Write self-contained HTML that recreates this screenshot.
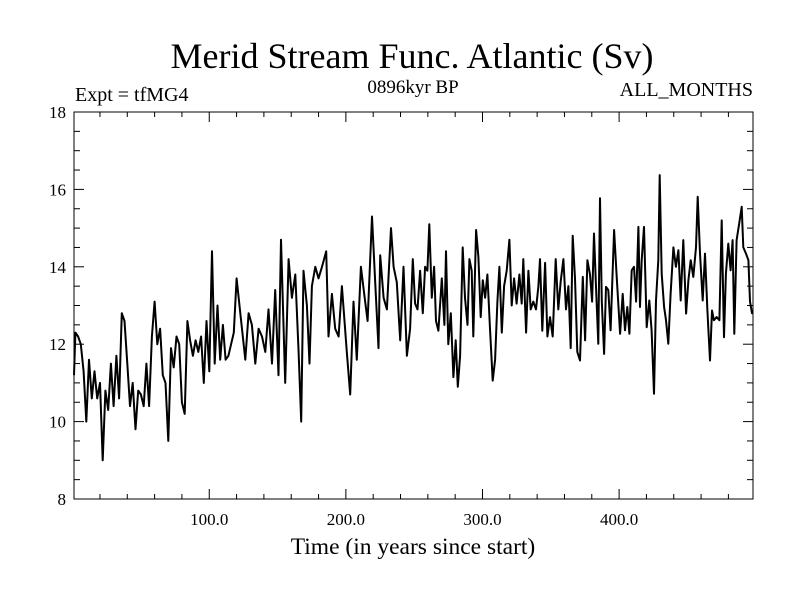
<!DOCTYPE html>
<html><head><meta charset="utf-8"><style>
body{margin:0;background:#fff;}
svg{display:block;font-family:"Liberation Serif",serif;}
</style></head><body>
<svg id="chart" width="800" height="600" viewBox="0 0 800 600">
<text x="412" y="68" font-size="36" text-anchor="middle">Merid Stream Func. Atlantic (Sv)</text>
<text x="75" y="101" font-size="20">Expt = tfMG4</text>
<text x="413" y="93" font-size="19" text-anchor="middle">0896kyr BP</text>
<text x="753" y="96" font-size="20" text-anchor="end">ALL_MONTHS</text>
<text x="413" y="554" font-size="23.5" text-anchor="middle">Time (in years since start)</text>
<g id="axes"></g>
<path id="series" fill="none" stroke="#000" stroke-width="2" stroke-linejoin="round"/>
<rect x="74" y="112" width="679" height="387" fill="none" stroke="#000" stroke-width="1"/>
</svg>
<script>
const years = [1,2,4,6,8,10,12,14,16,18,20,22,24,26,28,30,32,34,36,38,40,42,44,46,48,50,52,54,56,58,60,62,64,66,68,70,72,74,76,78,80,82,84,86,88,90,92,94,96,98,100,102,104,106,108,110,112,114,116,118,120,
122.7,126.4,128.8,131.2,133.7,136.1,138.6,141,143.4,145.9,148.3,150.7,152.5,155.6,158.1,160.5,163,165.4,167.3,169,171.5,173.4,175.1,177.6,180,182.5,185.6,187.3,189.8,192.2,194.7,197.1,200.7,203.2,205.6,208,211,213.4,215.9,219.1,221.5,223.9,225.1,227.6,230,233,234.9,237.3,239.8,242.2,244.7,
247,249,250.7,252.4,254.3,256.3,258,259.7,261.1,262.9,264.6,266,267.7,270.2,272.1,273.3,275,276.8,278.7,280.4,281.9,283.6,285.5,287.2,289,290.4,292.1,293.3,295.3,297,298.7,300.2,301.9,303.6,305.5,307.5,309.2,310.9,312.4,314.1,315.8,317.7,319.7,321.4,323.1,325,327,328.7,329.9,331.9,333.6,335.3,337.2,339.2,340.9,342.1,343.8,345.8,347.5,349.4,351.4,353.6,355.5,357.2,359.2,361.1,362.9,364.6,366,367.7,369.4,
371.4,373.4,375.1,376.8,378.7,380.2,381.6,383.1,384.8,386,387.3,389,390.4,392.1,393.8,396.3,398.2,400.7,402.6,404.3,406,407.5,409.2,410.9,412.4,414.1,415.3,416.5,418.2,420.2,422.1,423.8,425.5,427,428.7,429.7,431.2,432.9,434.3,436,437.7,439.7,441.6,443.4,445.1,447,449,450.7,452.4,454.3,456.3,457.5,459.2,461.2,462.9,464.6,466.5,468,469.4,471.4,473.4,475.1,476.8,478.2,479.9,481.6,483.1,484.3,486,487.9,489.7,490.9,492.9,494.6,495.8,497.3,498];
const values = [11.2,12.3,12.2,12.0,11.3,10.0,11.6,10.6,11.3,10.6,11.0,9.0,10.8,10.3,11.5,10.4,11.7,10.6,12.8,12.6,11.5,10.4,11.0,9.8,10.8,10.7,10.4,11.5,10.4,12.2,13.1,12.0,12.4,11.2,11.0,9.5,11.9,11.4,12.2,12.0,10.5,10.2,12.6,12.1,11.7,12.1,11.8,12.2,11.0,12.6,11.3,14.4,11.5,13.0,11.6,12.5,11.6,11.7,12.0,12.3,13.7,
12.8,11.6,12.8,12.5,11.5,12.4,12.2,11.8,12.9,11.5,13.4,11.2,14.7,11.0,14.2,13.2,13.8,11.8,10.0,13.9,13.0,11.5,13.5,14.0,13.7,14.0,14.4,12.2,13.3,12.4,12.2,13.5,11.8,10.7,13.1,11.6,14.0,13.3,12.6,15.3,13.6,11.9,14.3,13.2,12.9,15.0,14.0,13.6,12.1,14.0,11.7,
12.4,14.2,13.05,12.9,13.9,12.8,14.0,13.9,15.1,13.2,14.0,12.6,12.35,13.7,12.5,14.4,12.0,12.8,11.15,12.1,10.9,11.7,14.5,13.2,12.5,14.2,13.9,12.2,14.95,14.25,12.7,13.65,13.2,13.8,12.4,11.06,11.6,13.1,14.0,12.3,13.5,13.9,14.7,13.0,13.7,13.05,13.8,13.05,14.2,12.3,13.9,12.9,13.1,12.9,13.5,14.2,12.35,14.1,12.2,12.7,12.2,14.2,12.9,13.6,14.2,12.9,13.5,11.9,14.8,13.7,11.8,
11.58,13.74,12.1,14.17,13.8,13.1,14.86,13.48,12.01,15.77,13.1,11.75,13.48,13.4,12.36,14.95,13.74,12.27,13.3,12.36,12.96,12.27,13.91,14.0,13.1,15.03,12.96,14.17,15.03,12.44,13.13,12.36,10.72,13.13,14.17,16.37,13.82,12.96,12.62,12.01,13.3,14.5,14.0,14.43,13.13,14.69,12.79,13.65,14.17,13.74,14.5,15.81,14.34,13.13,14.34,12.87,11.58,12.87,12.62,12.7,12.62,15.2,12.18,13.82,14.6,13.91,14.69,12.27,14.69,15.12,15.55,14.5,14.34,14.17,13.1,12.8,12.8];
const xTicks = [100,200,300,400];
const xTickLabels = ["100.0","200.0","300.0","400.0"];
const yTicks = [8,10,12,14,16,18];
const yTickLabels = ["8","10","12","14","16","18"];

const X0=74,X1=753,Y0=499,Y1=112, XMIN=1, XMAX=498, YMIN=8, YMAX=18;
function sx(v){return X0+(v-XMIN)/(XMAX-XMIN)*(X1-X0);}
function sy(v){return Y0-(v-YMIN)/(YMAX-YMIN)*(Y0-Y1);}
const NS="http://www.w3.org/2000/svg";
const axes=document.getElementById('axes');
function line(x1,y1,x2,y2,name){
  const l=document.createElementNS(NS,'line');
  l.setAttribute('x1',x1);l.setAttribute('y1',y1);l.setAttribute('x2',x2);l.setAttribute('y2',y2);
  l.setAttribute('stroke','#000');l.setAttribute('stroke-width','1');
  
  
  axes.appendChild(l);
}
function text(x,y,s,anchor,size,name){
  const t=document.createElementNS(NS,'text');
  t.setAttribute('x',x);t.setAttribute('y',y);t.setAttribute('text-anchor',anchor);t.setAttribute('font-size',size);
  t.textContent=s;
  
  
  axes.appendChild(t);
}
for(let v=20; v<=XMAX; v+=20){
  const major = v%100===0;
  const x=sx(v), len= major?10:5;
  line(x,Y0,x,Y0-len,'x-tick');
  line(x,Y1,x,Y1+len,'x-tick-top');
}
xTicks.forEach((v,i)=>text(sx(v),Y0+26,xTickLabels[i],'middle',17,'x-tick-label'));
for(let v=YMIN; v<=YMAX+0.001; v+=0.5){
  const major = Math.abs(v-Math.round(v))<0.01 && Math.round(v)%2===0;
  const y=sy(v), len= major?10:6;
  line(X0,y,X0+len,y,'y-tick');
  line(X1,y,X1-len,y,'y-tick-right');
}
yTicks.forEach((v,i)=>text(X0-8,sy(v)+6,yTickLabels[i],'end',17,'y-tick-label'));
let d='';
years.forEach((yr,i)=>{d+=(i?'L':'M')+sx(yr).toFixed(1)+' '+sy(values[i]).toFixed(1);});
document.getElementById('series').setAttribute('d',d);
</script>
</body></html>
